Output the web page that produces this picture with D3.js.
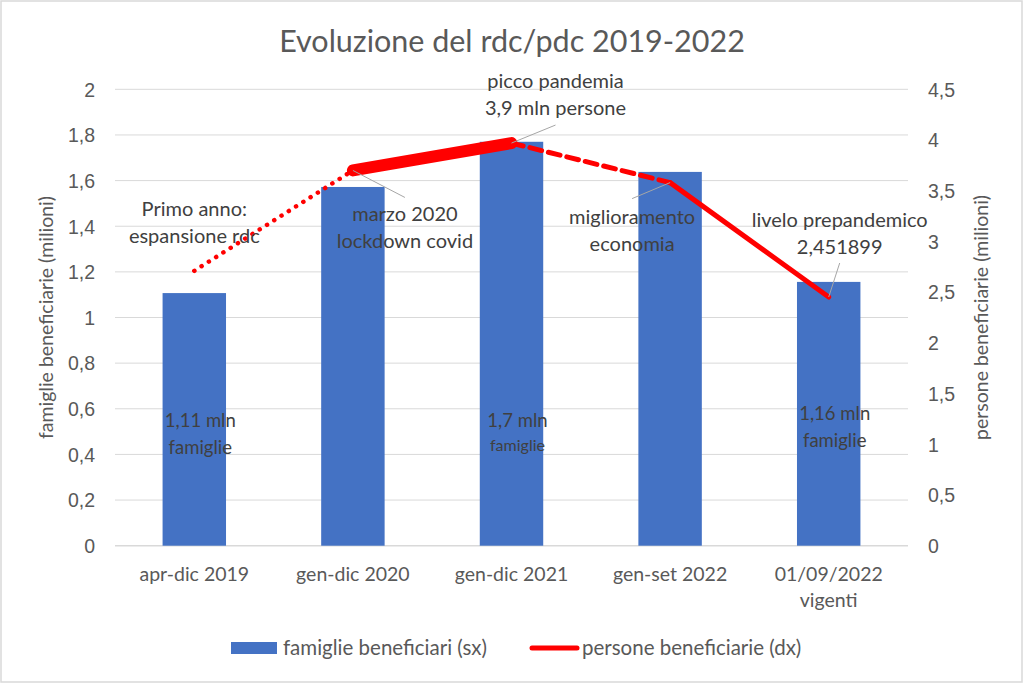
<!DOCTYPE html>
<html lang="it">
<head>
<meta charset="UTF-8">
<title>Evoluzione del rdc/pdc 2019-2022</title>
<script src="https://d3js.org/d3.v7.min.js"></script>
<style>
    body { margin: 0; background: #fff; font-family: Lato, "Open Sans", sans-serif; }
    svg { display: block; }
    .tick text { fill: #595959; font-size: 19.5px; }
</style>
</head>
<body>
<svg id="chart" width="1024" height="684"></svg>
<script>
// categorie e serie
const categories = ["apr-dic 2019", "gen-dic 2020", "gen-dic 2021", "gen-set 2022", "01/09/2022\nvigenti"];
const famiglie = [1.107, 1.572, 1.77, 1.638, 1.156];
const persone = [2.71, 3.70, 3.97, 3.58, 2.451899];
const leftTicks = [0, 0.2, 0.4, 0.6, 0.8, 1, 1.2, 1.4, 1.6, 1.8, 2];
const rightTicks = [0, 0.5, 1, 1.5, 2, 2.5, 3, 3.5, 4, 4.5];
const barLabels = [["1,11 mln", "famiglie"], null, ["1,7 mln", "famiglie"], null, ["1,16 mln", "famiglie"]];
const notes = [
    ["Primo anno:", "espansione rdc"],
    ["marzo 2020", "lockdown covid"],
    ["picco pandemia", "3,9 mln persone"],
    ["miglioramento", "economia"],
    ["livelo prepandemico", "2,451899"]
];

const svg = d3.select("#chart");
const W = 1024, H = 684;
const m = { left: 115, right: 908, top: 89.3, bottom: 545.7 };

svg.append("rect").attr("x", 1).attr("y", 1).attr("width", W - 3).attr("height", H - 3)
    .attr("fill", "#fff").attr("stroke", "#d9d9d9").attr("stroke-width", 1.5);

const x = d3.scaleBand().domain(d3.range(categories.length)).range([m.left, m.right]).paddingInner(0.6).paddingOuter(0.3);
const yL = d3.scaleLinear().domain([0, 2]).range([m.bottom, m.top]);
const yR = d3.scaleLinear().domain([0, 4.5]).range([m.bottom, m.top]);
const cx = i => x(i) + x.bandwidth() / 2;
const fmt = d => String(d).replace(".", ",");

// griglia
svg.append("g").selectAll("line").data(leftTicks).join("line")
    .attr("x1", m.left).attr("x2", m.right)
    .attr("y1", d => yL(d)).attr("y2", d => yL(d))
    .attr("stroke", "#d9d9d9").attr("stroke-width", d => d === 0 ? 1.5 : 1);

// assi
const gl = svg.append("g").attr("transform", `translate(${m.left - 14},0)`)
    .call(d3.axisLeft(yL).tickValues(leftTicks).tickSize(0).tickPadding(6).tickFormat(fmt));
const gr = svg.append("g").attr("transform", `translate(${m.right + 14},0)`)
    .call(d3.axisRight(yR).tickValues(rightTicks).tickSize(0).tickPadding(6).tickFormat(fmt));
[gl, gr].forEach(g => { g.select(".domain").remove(); g.selectAll(".tick text").attr("dy", "0.35em"); });

// etichette categorie
const gx = svg.append("g");
categories.forEach((c, i) => {
    const t = gx.append("text").attr("x", cx(i)).attr("y", 581).attr("text-anchor", "middle")
        .attr("fill", "#595959").attr("font-size", 19.5);
    c.split("\n").forEach((s, k) => t.append("tspan").attr("x", cx(i)).attr("dy", k ? 26 : 0).text(s));
});

// barre
svg.append("g").selectAll("rect").data(famiglie).join("rect")
    .attr("x", (d, i) => x(i)).attr("width", x.bandwidth())
    .attr("y", d => yL(d)).attr("height", d => yL(0) - yL(d))
    .attr("fill", "#4472c4");

// etichette nelle barre
barLabels.forEach((lab, i) => {
    if (!lab) return;
    const base = i === 4 ? 420 : 427;
    const t = svg.append("text").attr("text-anchor", "middle").attr("fill", "#404040");
    t.append("tspan").attr("x", cx(i) + 6).attr("y", base).attr("font-size", 18.5).text(lab[0]);
    t.append("tspan").attr("x", cx(i) + 6).attr("y", base + (i === 2 ? 24 : 27))
        .attr("font-size", i === 2 ? 16 : 18.5).text(lab[1]);
});

// linea persone: ogni tratto ha il suo stile
const segStyles = [
    { w: 4.5, dash: "0.1 8.5" },
    { w: 12, dash: null },
    { w: 5, dash: "12 7" },
    { w: 5, dash: null }
];
const gLine = svg.append("g");
d3.pairs(d3.range(persone.length)).forEach(([a, b], k) => {
    const s = segStyles[k];
    gLine.append("line")
        .attr("x1", cx(a)).attr("y1", yR(persone[a]))
        .attr("x2", cx(b)).attr("y2", yR(persone[b]))
        .attr("stroke", "#ff0000").attr("stroke-width", s.w)
        .attr("stroke-linecap", "round")
        .attr("stroke-dasharray", s.dash);
});

// annotazioni (offset rispetto al punto della linea)
const noteLayout = [
    { dx: 0, dy: -55, lead: false },
    { dx: 52, dy: 51, lead: true, ly: 27 },
    { dx: 44, dy: -55, lead: true, ly: -18 },
    { dx: -38, dy: 41, lead: true, ly: 16 },
    { dx: 11, dy: -70, lead: true, ly: -34 }
];
notes.forEach((n, i) => {
    const px = cx(i), py = yR(persone[i]), L = noteLayout[i];
    if (L.lead) {
        svg.append("line").attr("x1", px).attr("y1", py)
            .attr("x2", px + L.dx).attr("y2", py + L.ly)
            .attr("stroke", "#a6a6a6").attr("stroke-width", 1);
    }
    const t = svg.append("text").attr("text-anchor", "middle").attr("fill", "#404040").attr("font-size", 20);
    n.forEach((s, k) => t.append("tspan").attr("x", px + L.dx).attr("y", py + L.dy + k * 27).text(s));
});

// titolo e titoli assi
svg.append("text").attr("x", 512).attr("y", 52).attr("text-anchor", "middle")
    .attr("fill", "#595959").attr("font-size", 30.5).text("Evoluzione del rdc/pdc 2019-2022");
svg.append("text").attr("transform", `translate(53,${(m.top + m.bottom) / 2}) rotate(-90)`)
    .attr("text-anchor", "middle").attr("fill", "#595959").attr("font-size", 19.5)
    .text("famiglie beneficiarie (milioni)");
svg.append("text").attr("transform", `translate(988,${(m.top + m.bottom) / 2}) rotate(-90)`)
    .attr("text-anchor", "middle").attr("fill", "#595959").attr("font-size", 19.5)
    .text("persone beneficiarie (milioni)");

// legenda
const lg = svg.append("g").attr("font-size", 20.5).attr("fill", "#595959");
lg.append("rect").attr("x", 231).attr("y", 642).attr("width", 46).attr("height", 12).attr("fill", "#4472c4");
lg.append("text").attr("x", 283).attr("y", 655).text("famiglie beneficiari (sx)");
lg.append("line").attr("x1", 532).attr("x2", 577).attr("y1", 648).attr("y2", 648)
    .attr("stroke", "#ff0000").attr("stroke-width", 5).attr("stroke-linecap", "round");
lg.append("text").attr("x", 582).attr("y", 655).text("persone beneficiarie (dx)");
</script>
</body>
</html>
